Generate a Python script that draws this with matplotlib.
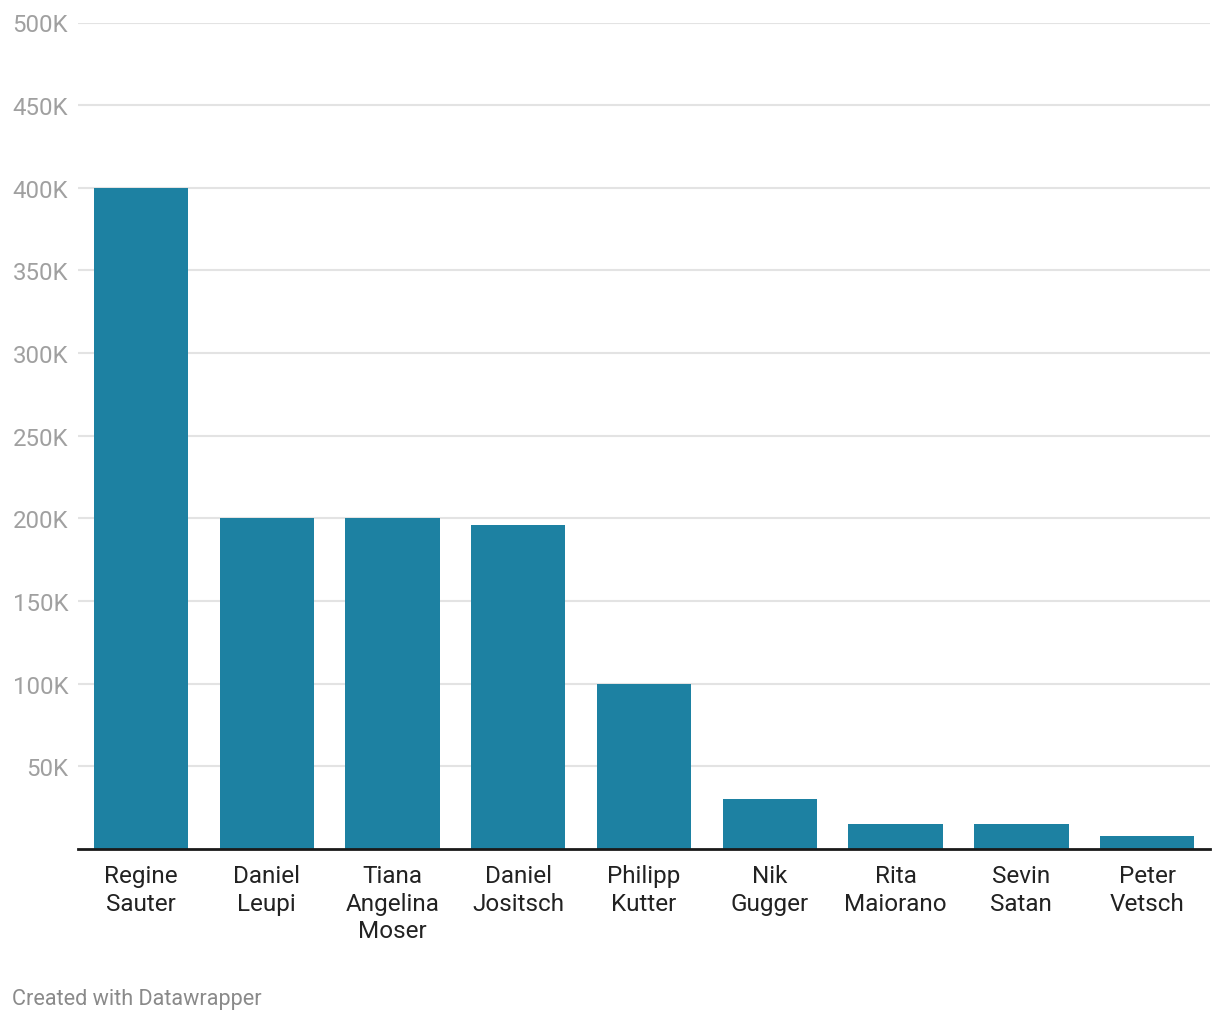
import matplotlib.pyplot as plt
from matplotlib.ticker import FuncFormatter

NAMES = ["Regine\nSauter", "Daniel\nLeupi", "Tiana\nAngelina\nMoser", "Daniel\nJositsch",
         "Philipp\nKutter", "Nik\nGugger", "Rita\nMaiorano", "Sevin\nSatan", "Peter\nVetsch"]
VALUES = [400000, 200000, 200000, 196000, 100000, 30000, 15000, 15000, 8000]
Y_TICKS = [50000, 100000, 150000, 200000, 250000, 300000, 350000, 400000, 450000, 500000]

plt.rcParams['font.family'] = ['Roboto', 'DejaVu Sans']

fig = plt.figure(figsize=(12.2, 10.2), dpi=100)
ax = fig.add_axes([78 / 1220, 170 / 1020, 1132 / 1220, 826.5 / 1020])

ax.bar(range(len(VALUES)), VALUES, width=0.75, color="#1d81a2", zorder=2)
ax.set_xlim(-0.5, len(VALUES) - 0.5)
ax.set_ylim(0, 500000)

ax.set_yticks(Y_TICKS)
ax.yaxis.set_major_formatter(FuncFormatter(lambda v, p: "%dK" % (v / 1000)))
ax.tick_params(axis="y", length=0, pad=7, labelsize=17.3, labelcolor="#a0a0a0")
ax.grid(axis="y", color="#e3e3e3", linewidth=1.5, zorder=0)

ax.set_xticks(range(len(VALUES)))
ax.set_xticklabels(NAMES, linespacing=1.25)
ax.tick_params(axis="x", length=0, pad=11, labelsize=17.5, labelcolor="#222222")

for s in ["top", "right", "left"]:
    ax.spines[s].set_visible(False)
ax.spines["bottom"].set_color("#1a1a1a")
ax.spines["bottom"].set_linewidth(2)
ax.spines["bottom"].set_zorder(3)

fig.text(12 / 1220, 1 - 1000 / 1020, "Created with Datawrapper", fontsize=15.6,
         color="#8a8a8a", va="center", ha="left")

fig.savefig("out.png", dpi=100, facecolor="white")
